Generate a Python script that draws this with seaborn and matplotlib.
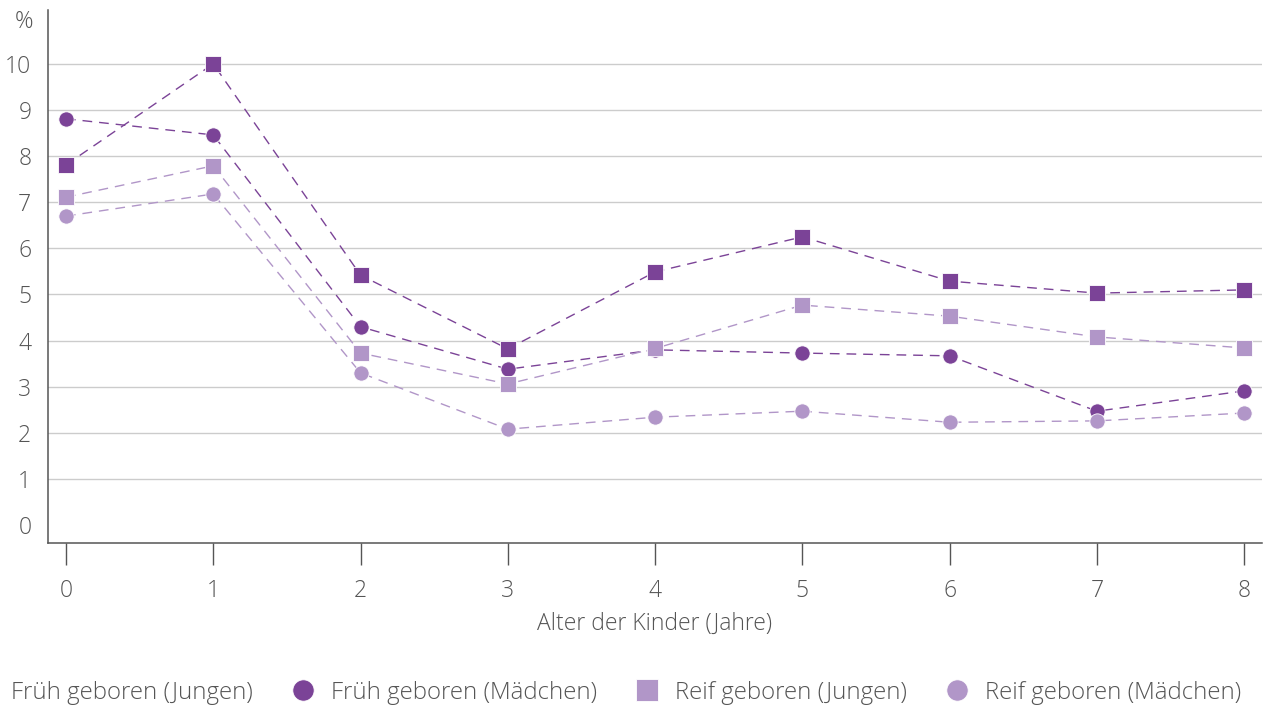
import pandas as pd
import numpy as np
import matplotlib.pyplot as plt
import seaborn as sns

# Werte (Anteil in %)
alter = [0, 1, 2, 3, 4, 5, 6, 7, 8]
frueh_jungen = [7.81, 10.0, 5.42, 3.82, 5.49, 6.25, 5.29, 5.03, 5.10]
frueh_maedchen = [8.81, 8.46, 4.30, 3.38, 3.80, 3.73, 3.67, 2.47, 2.91]
reif_jungen = [7.11, 7.79, 3.73, 3.06, 3.83, 4.77, 4.53, 4.08, 3.84]
reif_maedchen = [6.70, 7.18, 3.30, 2.08, 2.34, 2.47, 2.23, 2.26, 2.43]

gruppen = [
    "Früh geboren (Jungen)",
    "Früh geboren (Mädchen)",
    "Reif geboren (Jungen)",
    "Reif geboren (Mädchen)",
]
werte = [frueh_jungen, frueh_maedchen, reif_jungen, reif_maedchen]

dunkel = "#7b4397"
hell = "#b196c8"
farben = dict(zip(gruppen, [dunkel, dunkel, hell, hell]))
marker = dict(zip(gruppen, ["s", "o", "s", "o"]))
striche = dict(zip(gruppen, [(7, 5)] * 4))

df = pd.concat(
    [pd.DataFrame({"alter": alter, "wert": w, "gruppe": g}) for g, w in zip(gruppen, werte)],
    ignore_index=True,
)

sns.set_style("white")
plt.rcParams["font.family"] = ["Open Sans", "DejaVu Sans"]
plt.rcParams["font.weight"] = "light"
plt.rcParams["axes.labelweight"] = "light"
textfarbe = "#555555"
schrift = 16.5

fig = plt.figure(figsize=(12.66, 7.09), dpi=100)
ax = fig.add_axes([0.0379, 0.234, 0.9589, 0.752])

sns.lineplot(
    data=df,
    x="alter",
    y="wert",
    hue="gruppe",
    style="gruppe",
    palette=farben,
    markers=marker,
    dashes=striche,
    markersize=11,
    markeredgecolor="white",
    markeredgewidth=0.6,
    linewidth=1.0,
    legend="full",
    ax=ax,
)

ax.set_xlim(-0.122, 8.12)
ax.set_ylim(-0.39, 11.17)
ax.set_xticks(alter)
ax.set_yticks(range(0, 11))
ax.yaxis.grid(True, color="#cccccc", linewidth=1.0)
ax.get_ygridlines()[0].set_visible(False)
ax.set_axisbelow(True)

for s in ["top", "right"]:
    ax.spines[s].set_visible(False)
for s in ["left", "bottom"]:
    ax.spines[s].set_color(textfarbe)
    ax.spines[s].set_linewidth(1.1)

ax.tick_params(axis="y", left=False, length=0, pad=12, labelsize=schrift, labelcolor=textfarbe)
ax.tick_params(axis="x", bottom=True, length=16, width=1.0, color=textfarbe, pad=10,
               labelsize=schrift, labelcolor=textfarbe, direction="out")

ax.set_xlabel("Alter der Kinder (Jahre)", fontsize=schrift, fontweight="light",
              color=textfarbe, labelpad=6)
ax.set_ylabel("%", rotation=0, fontsize=schrift, fontweight="light", color=textfarbe)
ax.yaxis.set_label_coords(-0.02, 0.955)

handles, labels = ax.get_legend_handles_labels()
ax.get_legend().remove()
fig.legend(
    handles,
    labels,
    loc="center left",
    bbox_to_anchor=(-0.038, 0.023),
    ncol=4,
    frameon=False,
    prop={"size": 17.3, "weight": "light"},
    labelcolor=textfarbe,
    handlelength=0.8,
    handletextpad=0.75,
    columnspacing=1.7,
    markerscale=1.4,
)
for h in fig.legends[0].legend_handles:
    h.set_linestyle("")

fig.savefig("out.png", dpi=100)
